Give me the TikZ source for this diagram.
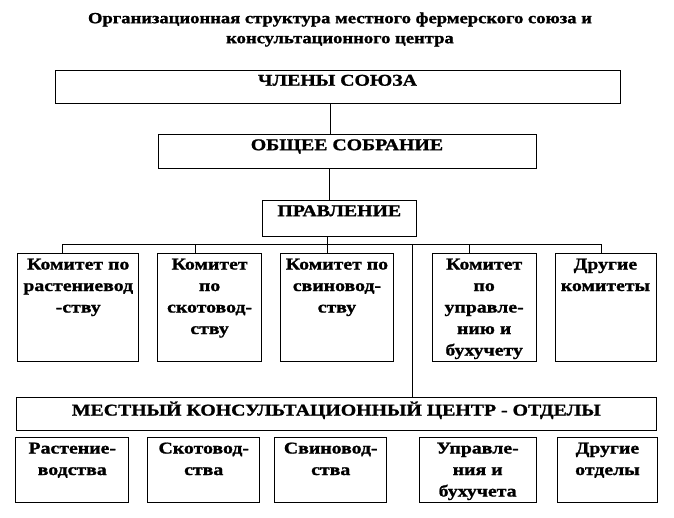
\documentclass[tikz,border=0pt]{standalone}
\usepackage{fontspec}
\setmainfont{Liberation Serif}[FakeStretch=1.2, BoldFeatures={FakeBold=1.2}]
\newcommand{\fr}{\rule{0pt}{12pt}}
\begin{document}
\begin{tikzpicture}[x=1pt,y=-1pt,
  box/.style={draw, line width=0.9pt, inner sep=0pt, anchor=north west},
  lbl/.style={anchor=north, inner sep=0pt, align=center, font=\bfseries\fontsize{16.5}{21.5}\selectfont},
  ttl/.style={anchor=north, inner sep=0pt, align=center, font=\bfseries\fontsize{15.5}{20}\selectfont},
  conn/.style={draw, line width=0.8pt}]
\useasboundingbox (0,0) rectangle (674,517);
% title
\node[ttl] (title) at (340,11) {\fr Организационная структура местного фермерского союза и\\консультационного центра};
% boxes
\node[box, minimum width=565pt, minimum height=33pt] (chl) at (54.5,69.5) {};
\node[box, minimum width=378pt, minimum height=33.5pt] (obs) at (157.5,134) {};
\node[box, minimum width=154.3pt, minimum height=36pt] (prav) at (261.7,200) {};
\node[box, minimum width=121pt, minimum height=107.4pt] (k1) at (17.3,253.3) {};
\node[box, minimum width=103.7pt, minimum height=107.4pt] (k2) at (157.3,253.3) {};
\node[box, minimum width=112.4pt, minimum height=107.4pt] (k3) at (280.3,253.3) {};
\node[box, minimum width=104pt, minimum height=107.4pt] (k4) at (431.7,253.3) {};
\node[box, minimum width=101pt, minimum height=107.4pt] (k5) at (554.5,253.3) {};
\node[box, minimum width=639.7pt, minimum height=32.7pt] (mkc) at (16,397.3) {};
\node[box, minimum width=113pt, minimum height=65pt] (o1) at (15.3,437.3) {};
\node[box, minimum width=112pt, minimum height=65pt] (o2) at (147.3,437.3) {};
\node[box, minimum width=112pt, minimum height=65pt] (o3) at (274.3,437.3) {};
\node[box, minimum width=117pt, minimum height=65pt] (o4) at (418.7,437.3) {};
\node[box, minimum width=100.6pt, minimum height=65pt] (o5) at (556.7,437.3) {};
% labels
\node[lbl] (chl-t) at ([yshift=-4pt]chl.north) {\fr ЧЛЕНЫ СОЮЗА};
\node[lbl] (obs-t) at ([yshift=-4pt]obs.north) {\fr ОБЩЕЕ СОБРАНИЕ};
\node[lbl] (prav-t) at ([yshift=-4pt]prav.north) {\fr ПРАВЛЕНИЕ};
\node[lbl] (k1-t) at ([yshift=-4pt]k1.north) {\fr Комитет по\\растениевод\\-ству};
\node[lbl] (k2-t) at ([yshift=-4pt]k2.north) {\fr Комитет\\по\\скотовод-\\ству};
\node[lbl] (k3-t) at ([yshift=-4pt]k3.north) {\fr Комитет по\\свиновод-\\ству};
\node[lbl] (k4-t) at ([yshift=-4pt]k4.north) {\fr Комитет\\по\\управле-\\нию и\\бухучету};
\node[lbl] (k5-t) at ([yshift=-4pt]k5.north) {\fr Другие\\комитеты};
\node[lbl] (mkc-t) at ([yshift=-4pt]mkc.north) {\fr МЕСТНЫЙ КОНСУЛЬТАЦИОННЫЙ ЦЕНТР - ОТДЕЛЫ};
\node[lbl] (o1-t) at ([yshift=-4pt]o1.north) {\fr Растение-\\водства};
\node[lbl] (o2-t) at ([yshift=-4pt]o2.north) {\fr Скотовод-\\ства};
\node[lbl] (o3-t) at ([yshift=-4pt]o3.north) {\fr Свиновод-\\ства};
\node[lbl] (o4-t) at ([yshift=-4pt]o4.north) {\fr Управле-\\ния и\\бухучета};
\node[lbl] (o5-t) at ([yshift=-4pt]o5.north) {\fr Другие\\отделы};
% connectors
\coordinate (c1) at (330,0);
\coordinate (c2) at (329,0);
\draw[conn] (chl.south -| c1) -- (obs.north -| c1);
\draw[conn] (obs.south -| c2) -- (prav.north -| c2);
\coordinate (d1) at (62,244);
\coordinate (d2) at (195.3,244);
\coordinate (d3) at (327.7,244);
\coordinate (d4) at (469.3,244);
\coordinate (d5) at (601.5,244);
\coordinate (dl) at (412.7,244);
\draw[conn] (d1) -- (d5);
\draw[conn] (prav.south -| d3) -- (d3);
\draw[conn] (d1) -- (k1.north -| d1);
\draw[conn] (d2) -- (k2.north -| d2);
\draw[conn] (d3) -- (k3.north -| d3);
\draw[conn] (d4) -- (k4.north -| d4);
\draw[conn] (d5) -- (k5.north -| d5);
\draw[conn] (dl) -- (mkc.north -| dl);
\end{tikzpicture}
\end{document}
